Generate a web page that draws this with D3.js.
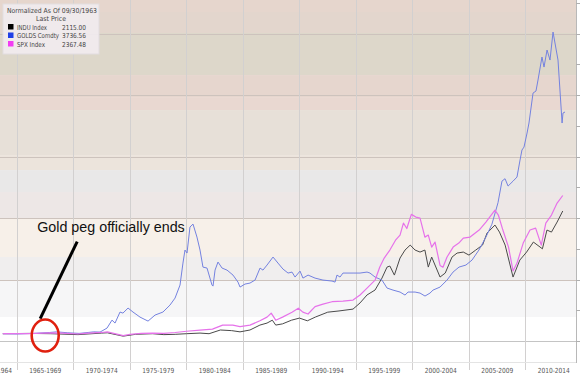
<!DOCTYPE html>
<html>
<head>
<meta charset="utf-8">
<script src="https://cdn.jsdelivr.net/npm/d3@7"></script>
<style>
body{margin:0;background:#fff;}
svg{display:block;}
</style>
</head>
<body>
<script>
// period labels on the time axis
var periodStarts=[1960,1965,1970,1975,1980,1985,1990,1995,2000,2005,2010];
var periodLabels=["1960-1964","1965-1969","1970-1974","1975-1979","1980-1984","1985-1989","1990-1994","1995-1999","2000-2004","2005-2009","2010-2014"];
var gridValues=[0,1000,2000,3000,4000,5000];

var seriesNames=["INDU Index","GOLDS Comdty","SPX Index"];
var lastPrices=["2115.00","3736.56","2367.48"];
var legendTitle=["Normalized As Of 09/30/1963","Last Price"];

// [year, normalized value]
var indu=[[1963.75,120],[1966,125],[1968,120],[1970.4,105],[1972.5,130],[1973,135],[1974.4,80],[1975.5,110],[1977,120],
[1978,105],[1979,110],[1980,120],[1981.2,130],[1982,120],[1983,180],[1984,170],[1984.74,150],[1985.62,180],[1986.5,260],
[1987.13,293],[1987.6,340],[1987.9,260],[1988.5,280],[1989.3,340],[1990,374],[1990.7,330],[1991.4,390],[1992.5,470],
[1993.5,490],[1994.74,520],[1995.36,620],[1995.98,750],[1996.69,830],[1997.3,1024],[1997.75,1203],[1998,1220],[1998.4,1073],
[1998.9,1350],[1999.34,1480],[1999.8,1561],[2000.23,1480],[2000.67,1447],[2001.1,1480],[2001.4,1203],[2001.7,1366],
[2002.44,1041],[2002.9,1106],[2003.5,1366],[2003.95,1431],[2004.5,1447],[2005,1398],[2005.6,1480],[2006.2,1561],
[2006.6,1756],[2007.3,1886],[2007.7,1772],[2008.2,1561],[2008.9,1041],[2009.5,1317],[2010.1,1447],[2010.7,1610],
[2011.5,1500],[2011.9,1805],[2012.3,1772],[2012.8,1935],[2013.3,2115]];

var gold=[[1963.75,120],[1965,115],[1966.5,125],[1967.9,140],[1968.5,150],[1969.5,135],[1970.5,125],[1971.3,140],[1971.8,150],
[1972.35,146],[1972.97,211],[1973.41,341],[1973.68,293],[1974.12,472],[1974.38,455],[1974.83,537],[1975.27,472],[1975.89,390],
[1976.6,325],[1977.22,423],[1977.92,472],[1978.54,585],[1978.99,699],[1979.43,911],[1979.69,1268],[1979.87,1480],[1980.05,1431],
[1980.31,1854],[1980.58,1902],[1980.93,1691],[1981.2,1480],[1981.46,1203],[1981.82,1187],[1982.26,911],[1982.35,894],
[1982.53,1154],[1982.79,1285],[1983.15,1187],[1983.59,1154],[1984.12,1073],[1984.56,959],[1984.74,878],[1985.18,927],
[1985.62,943],[1986.07,992],[1986.51,1187],[1986.77,1154],[1987.13,1236],[1987.66,1366],[1988.1,1268],[1988.54,1171],
[1988.99,1106],[1989.34,1122],[1989.61,1041],[1990.05,1138],[1990.31,1024],[1990.76,1073],[1991.38,1024],[1992.08,992],
[1992.88,976],[1993.15,959],[1993.32,1073],[1993.59,1041],[1993.85,1106],[1994.74,1106],[1995.36,1106],[1995.98,1122],
[1996.24,1106],[1996.69,1041],[1997.3,992],[1997.75,862],[1998.28,829],[1998.9,797],[1999.34,748],[1999.61,797],
[2000.23,797],[2000.67,780],[2001.11,732],[2001.55,780],[2001.82,829],[2002.44,878],[2003.06,992],[2003.59,1122],
[2004.12,1203],[2004.73,1236],[2005.27,1317],[2005.88,1480],[2006.5,1691],[2007.03,1900],[2007.57,2250],[2007.92,2600],
[2008.19,2640],[2008.46,2520],[2008.9,2600],[2009.25,2667],[2009.52,2943],[2009.69,3106],[2009.87,3154],[2010.14,3382],
[2010.31,3545],[2010.67,4032],[2010.93,4065],[2011.11,4244],[2011.46,4618],[2011.64,4455],[2011.91,4732],[2012.17,4569],
[2012.44,5024],[2012.88,4569],[2013.24,3545],[2013.32,3707],[2013.5,3724]];

var spx=[[1963.75,120],[1966,120],[1968,135],[1969,130],[1970.4,115],[1971,125],[1972.5,140],[1973,150],[1974.4,90],
[1975,110],[1976,125],[1977,130],[1978,125],[1979,140],[1980,160],[1981.2,179],[1982.3,195],[1983.2,260],[1984.1,260],
[1984.74,235],[1985.62,260],[1986.5,330],[1987.13,390],[1987.5,455],[1987.9,340],[1988.5,390],[1989.34,470],[1989.9,535],
[1990.3,470],[1990.76,440],[1991.38,560],[1992.08,600],[1992.88,640],[1993.85,650],[1994.74,667],[1995.36,750],[1995.98,860],
[1996.69,990],[1997.1,1200],[1997.5,1350],[1998,1480],[1998.5,1640],[1998.9,1724],[1999.2,1919],[1999.5,1830],[1999.9,2060],
[2000.3,2016],[2000.67,2000],[2001.1,1690],[2001.4,1724],[2001.7,1528],[2002,1610],[2002.44,1230],[2002.7,1200],[2003.06,1366],
[2003.6,1528],[2004.1,1593],[2004.5,1675],[2005.1,1691],[2005.9,1805],[2006.5,1935],[2007.3,2130],[2007.6,2049],[2008,1805],
[2008.5,1528],[2008.9,1140],[2009.25,1268],[2009.8,1593],[2010.4,1805],[2010.9,1837],[2011.4,1560],[2011.8,1919],
[2012.3,2049],[2012.8,2244],[2013.3,2367]];

var lineColors=["#4a4a4a","#7482e0","#e672ea"];
var swatchColors=["#000000","#1f3fe6","#f23cf2"];

// background shading bands [from value, to value, colour]
var bandStyle=[[5350,5545,"#e6d6cd"],[5008,5350,"#e3d6cd"],[4325,5008,"#ddd7ca"],[3967,4325,"#e6d6ce"],[3756,3967,"#e9d8d1"],
[3024,3756,"#e7e0d8"],[2780,3024,"#ece4dc"],[2423,2780,"#e9e8e8"],[2000,2423,"#ede7e6"],[1366,2000,"#f7f0e9"],
[992,1366,"#f0eeee"],[390,992,"#f6f6f7"],[-340,390,"#ffffff"]];

var svg=d3.select("body").append("svg").attr("width",581).attr("height",381);

var x=d3.scaleLinear().domain([1963.5,2014.56]).range([0,577]);
var y=d3.scaleLinear().domain([-340,5545]).range([362,0]);
var plotRight=576;
var smallFont="'DejaVu Sans Condensed','DejaVu Sans',sans-serif";

var g=svg.append("g");

g.selectAll(".band").data(bandStyle).enter().append("rect")
	.attr("x",0).attr("width",plotRight)
	.attr("y",function(d){return y(d[1]);})
	.attr("height",function(d){return y(d[0])-y(d[1]);})
	.attr("fill",function(d){return d[2];});

// grid
g.selectAll(".hgrid").data(gridValues).enter().append("line")
	.attr("x1",0).attr("x2",plotRight)
	.attr("y1",function(d){return Math.round(y(d))+0.5;})
	.attr("y2",function(d){return Math.round(y(d))+0.5;})
	.attr("stroke",function(d){return d==0?"#c4c4c4":"#cdc3bd";})
	.attr("stroke-width",1.2);

g.selectAll(".vgrid").data(periodStarts.slice(1)).enter().append("line")
	.attr("x1",function(d){return Math.round(x(d))+0.5;})
	.attr("x2",function(d){return Math.round(x(d))+0.5;})
	.attr("y1",0).attr("y2",370)
	.attr("stroke","#d2d0d0").attr("stroke-width",1);

// right axis
g.append("line").attr("x1",plotRight+0.5).attr("x2",plotRight+0.5).attr("y1",0).attr("y2",363)
	.attr("stroke","#b8b8b8");
g.append("line").attr("x1",0).attr("x2",plotRight).attr("y1",362.5).attr("y2",362.5)
	.attr("stroke","#e4e4e4");
g.selectAll(".rtick").data(d3.range(0,5501,500)).enter().append("line")
	.attr("x1",plotRight).attr("x2",plotRight+4)
	.attr("y1",function(d){return Math.round(y(d))+0.5;})
	.attr("y2",function(d){return Math.round(y(d))+0.5;})
	.attr("stroke","#b0b0b0");

// x labels (first one is cut off at the left edge, as in the source)
g.selectAll(".xlab").data(periodLabels).enter().append("text")
	.attr("x",function(d,i){return i==0?x(1965)-5:x(periodStarts[i]+2.5);})
	.attr("y",373)
	.attr("text-anchor",function(d,i){return i==0?"end":"middle";})
	.attr("textLength",32).attr("lengthAdjust","spacingAndGlyphs")
	.style("font-family",smallFont)
	.style("font-size","7px")
	.attr("fill","#555")
	.text(function(d){return d;});

// series
var line=d3.line().x(function(d){return x(d[0]);}).y(function(d){return y(d[1]);});
var all=[indu,gold,spx];
[0,1,2].forEach(function(i){
	g.append("path").datum(all[i])
		.attr("d",line)
		.attr("fill","none")
		.attr("stroke",lineColors[i])
		.attr("stroke-width",i==2?1.2:1)
		.attr("stroke-linejoin","round");
});

// legend
var nameWidths=[30,42,28];
var lg=svg.append("g");
lg.append("rect").attr("x",3).attr("y",4).attr("width",96).attr("height",50)
	.attr("fill","#f1ecef").attr("fill-opacity",0.92).attr("stroke","#e2dde0");
lg.append("text").attr("x",7).attr("y",13).attr("textLength",90).text(legendTitle[0]);
lg.append("text").attr("x",51).attr("y",21).attr("text-anchor","middle").attr("textLength",30).text(legendTitle[1]);
seriesNames.forEach(function(name,i){
	var ry=24+i*8.5;
	lg.append("rect").attr("x",8).attr("y",ry).attr("width",5.5).attr("height",5.5).attr("fill",swatchColors[i]);
	lg.append("text").attr("x",17).attr("y",ry+5.5).attr("textLength",nameWidths[i]).text(name);
	lg.append("text").attr("x",86).attr("y",ry+5.5).attr("text-anchor","end").attr("textLength",24).text(lastPrices[i]);
});
lg.selectAll("text").style("font-family",smallFont).attr("lengthAdjust","spacingAndGlyphs")
	.style("font-size","6.8px").attr("fill","#444");

// annotation
var ann={year:1967.5,value:90,text:"Gold peg officially ends"};
var ax=x(ann.year),ay=y(ann.value);
svg.append("line").attr("x1",ax-5).attr("y1",ay-17).attr("x2",ax+32).attr("y2",ay-94)
	.attr("stroke","#000").attr("stroke-width",3);
svg.append("ellipse").attr("cx",ax).attr("cy",ay).attr("rx",13.5).attr("ry",16)
	.attr("fill","none").attr("stroke","#e0200f").attr("stroke-width",2.6);
svg.append("text").attr("x",ax-8).attr("y",ay-104)
	.style("font-family","'Liberation Sans',Arial,sans-serif").style("font-size","14.3px")
	.attr("fill","#111").text(ann.text);
</script>
</body>
</html>
